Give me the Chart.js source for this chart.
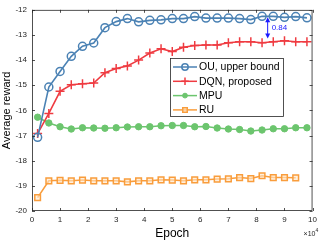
<!DOCTYPE html>
<html>
<head>
<meta charset="utf-8">
<script src="https://cdn.jsdelivr.net/npm/chart.js@4.4.1/dist/chart.umd.min.js"></script>
<style>
  html, body { margin: 0; padding: 0; background: #fff; }
  #wrap { width: 321px; height: 241px; }
</style>
</head>
<body>
<div id="wrap"><canvas id="rewardChart"></canvas></div>
<script>
/* ========== DATA (epoch in units of 1e4) ========== */
const epochs = [0.2, 0.6, 1.0, 1.4, 1.8, 2.2, 2.6, 3.0, 3.4, 3.8, 4.2, 4.6, 5.0,
                5.4, 5.8, 6.2, 6.6, 7.0, 7.4, 7.8, 8.2, 8.6, 9.0, 9.4, 9.8];

const ouReward  = [-17.07, -15.07, -14.45, -13.85, -13.45, -13.32, -12.71, -12.47, -12.35,
                   -12.48, -12.42, -12.40, -12.35, -12.35, -12.27, -12.33, -12.33, -12.33,
                   -12.35, -12.39, -12.26, -12.26, -12.30, -12.27, -12.32];
const dqnReward = [-16.92, -16.12, -15.24, -14.98, -14.94, -14.91, -14.50, -14.33, -14.23,
                   -14.00, -13.72, -13.55, -13.66, -13.49, -13.42, -13.40, -13.40, -13.31,
                   -13.27, -13.27, -13.31, -13.27, -13.23, -13.27, -13.27];
const mpuReward = [-16.27, -16.50, -16.65, -16.74, -16.69, -16.70, -16.71, -16.69, -16.66,
                   -16.65, -16.65, -16.61, -16.60, -16.60, -16.65, -16.64, -16.70, -16.74,
                   -16.76, -16.82, -16.78, -16.73, -16.73, -16.69, -16.69];
const ruReward  = [-19.47, -18.80, -18.78, -18.80, -18.77, -18.80, -18.80, -18.80, -18.84,
                   -18.80, -18.80, -18.76, -18.77, -18.80, -18.76, -18.76, -18.73, -18.72,
                   -18.67, -18.71, -18.60, -18.67, -18.67, -18.68];

const seriesNames = ["OU, upper bound", "DQN, proposed", "MPU", "RU"];
const xTicks = [0, 1, 2, 3, 4, 5, 6, 7, 8, 9, 10];
const yTicks = [-20, -19, -18, -17, -16, -15, -14, -13, -12];

// gap annotation between OU and DQN
const gapX = 8.4;
const gapTop = -12.30;
const gapBottom = -13.14;
const gapLabel = "0.84";

const FONT = "'Liberation Sans', Arial, sans-serif";

const toPoints = (ys) => ys.map((y, i) => ({ x: epochs[i], y }));

/* ========== PLUGIN: box, inward ticks, legend, annotation ========== */
const matlabAxes = {
    id: "matlabAxes",
    afterDraw(chart) {
        const { ctx, chartArea: a, scales } = chart;
        const xs = scales.x, ys = scales.y;
        ctx.save();

        // axes box
        ctx.strokeStyle = "#262626";
        ctx.lineWidth = 0.8;
        ctx.strokeRect(a.left + 0.5, a.top + 0.5, a.right - a.left - 1, a.bottom - a.top - 1);

        // inward ticks
        ctx.beginPath();
        xTicks.forEach(t => {
            const px = Math.round(xs.getPixelForValue(t)) + 0.5;
            ctx.moveTo(px, a.bottom); ctx.lineTo(px, a.bottom - 3);
            ctx.moveTo(px, a.top);    ctx.lineTo(px, a.top + 3);
        });
        yTicks.forEach(t => {
            const py = Math.round(ys.getPixelForValue(t)) + 0.5;
            ctx.moveTo(a.left, py);  ctx.lineTo(a.left + 3, py);
            ctx.moveTo(a.right, py); ctx.lineTo(a.right - 3, py);
        });
        ctx.stroke();

        // x exponent
        ctx.fillStyle = "#262626";
        ctx.font = "7px " + FONT;
        ctx.textAlign = "left";
        ctx.textBaseline = "alphabetic";
        ctx.fillText("\u00d710", a.right - 9, a.bottom + 25);
        ctx.font = "5px " + FONT;
        ctx.fillText("4", a.right + 3, a.bottom + 21);

        // gap annotation
        const gx = xs.getPixelForValue(gapX);
        const gt = ys.getPixelForValue(gapTop);
        const gb = ys.getPixelForValue(gapBottom);
        ctx.strokeStyle = "#1a1aff";
        ctx.fillStyle = "#1a1aff";
        ctx.lineWidth = 1;
        ctx.beginPath();
        ctx.moveTo(gx, gt + 2); ctx.lineTo(gx, gb - 2);
        ctx.stroke();
        [[gt, 1], [gb, -1]].forEach(([y, d]) => {
            ctx.beginPath();
            ctx.moveTo(gx, y);
            ctx.lineTo(gx - 2.5, y + d * 5);
            ctx.lineTo(gx + 2.5, y + d * 5);
            ctx.closePath();
            ctx.fill();
        });
        ctx.font = "8px " + FONT;
        ctx.textBaseline = "middle";
        ctx.fillText(gapLabel, gx + 4, (gt + gb) / 2);

        // legend box
        const lx = 170, ly = 58, lw = 113, lh = 58;
        ctx.fillStyle = "#fff";
        ctx.fillRect(lx, ly, lw, lh);
        ctx.strokeStyle = "#262626";
        ctx.lineWidth = 0.8;
        ctx.strokeRect(lx + 0.5, ly + 0.5, lw, lh);
        chart.data.datasets.forEach((ds, i) => {
            const ry = ly + 9 + i * 14.3;
            ctx.strokeStyle = ds.borderColor;
            ctx.lineWidth = 1.5;
            ctx.beginPath();
            ctx.moveTo(lx + 3, ry); ctx.lineTo(lx + 27, ry);
            ctx.stroke();
            ctx.fillStyle = ds.pointBackgroundColor;
            ctx.strokeStyle = ds.pointBorderColor;
            ctx.lineWidth = ds.pointBorderWidth;
            Chart.helpers.drawPoint(ctx, {
                pointStyle: ds.pointStyle,
                radius: ds.pointRadius - 0.8,
                borderWidth: ds.pointBorderWidth
            }, lx + 15, ry);
            ctx.fillStyle = "#000";
            ctx.font = "10.5px " + FONT;
            ctx.textAlign = "left";
            ctx.textBaseline = "middle";
            ctx.fillText(ds.label, lx + 29, ry + 0.5);
        });

        ctx.restore();
    }
};

const colors = ["#4b82b4", "#ef3b41", "#6cc56e", "#f99d3c"];

new Chart(document.getElementById("rewardChart"), {
    type: "line",
    data: {
        datasets: [
            {
                label: seriesNames[0], data: toPoints(ouReward),
                borderColor: colors[0], backgroundColor: "rgba(255,255,255,0)",
                pointStyle: "circle", pointRadius: 4, pointBorderWidth: 1.5,
                pointBackgroundColor: "rgba(255,255,255,0)", pointBorderColor: colors[0]
            },
            {
                label: seriesNames[1], data: toPoints(dqnReward),
                borderColor: colors[1], backgroundColor: colors[1],
                pointStyle: "cross", pointRadius: 4.5, pointBorderWidth: 1.5,
                pointBackgroundColor: colors[1], pointBorderColor: colors[1]
            },
            {
                label: seriesNames[2], data: toPoints(mpuReward),
                borderColor: colors[2], backgroundColor: colors[2],
                pointStyle: "circle", pointRadius: 3.2, pointBorderWidth: 1,
                pointBackgroundColor: colors[2], pointBorderColor: colors[2]
            },
            {
                label: seriesNames[3], data: toPoints(ruReward),
                borderColor: colors[3], backgroundColor: "rgba(255,255,255,0)",
                pointStyle: "rect", pointRadius: 4, pointBorderWidth: 1.5,
                pointBackgroundColor: "rgba(255,230,200,0.6)", pointBorderColor: colors[3]
            }
        ]
    },
    options: {
        responsive: true,
        maintainAspectRatio: false,
        animation: false,
        devicePixelRatio: 1,
        layout: { padding: { left: 0, right: 5, top: 5, bottom: 0 } },
        elements: { line: { borderWidth: 1.6, tension: 0 } },
        plugins: {
            legend: { display: false },
            tooltip: { enabled: false }
        },
        scales: {
            x: {
                type: "linear", min: 0, max: 10,
                afterBuildTicks: s => { s.ticks = xTicks.map(v => ({ value: v })); },
                afterFit: s => { s.height = 30; },
                grid: { display: false, drawTicks: false },
                border: { display: false },
                ticks: { color: "#262626", font: { family: FONT, size: 8 }, padding: 4, maxRotation: 0 },
                title: { display: true, text: "Epoch", color: "#000", font: { family: FONT, size: 12 }, padding: { top: 0, bottom: 0 } }
            },
            y: {
                min: -20, max: -12,
                afterBuildTicks: s => { s.ticks = yTicks.map(v => ({ value: v })); },
                afterFit: s => { s.width = 32; },
                grid: { display: false, drawTicks: false },
                border: { display: false },
                ticks: { color: "#262626", font: { family: FONT, size: 8 }, padding: 5 },
                title: { display: true, text: "Average reward", color: "#000", font: { family: FONT, size: 11 }, padding: { top: 0, bottom: 2 } }
            }
        }
    },
    plugins: [matlabAxes]
});
</script>
</body>
</html>
